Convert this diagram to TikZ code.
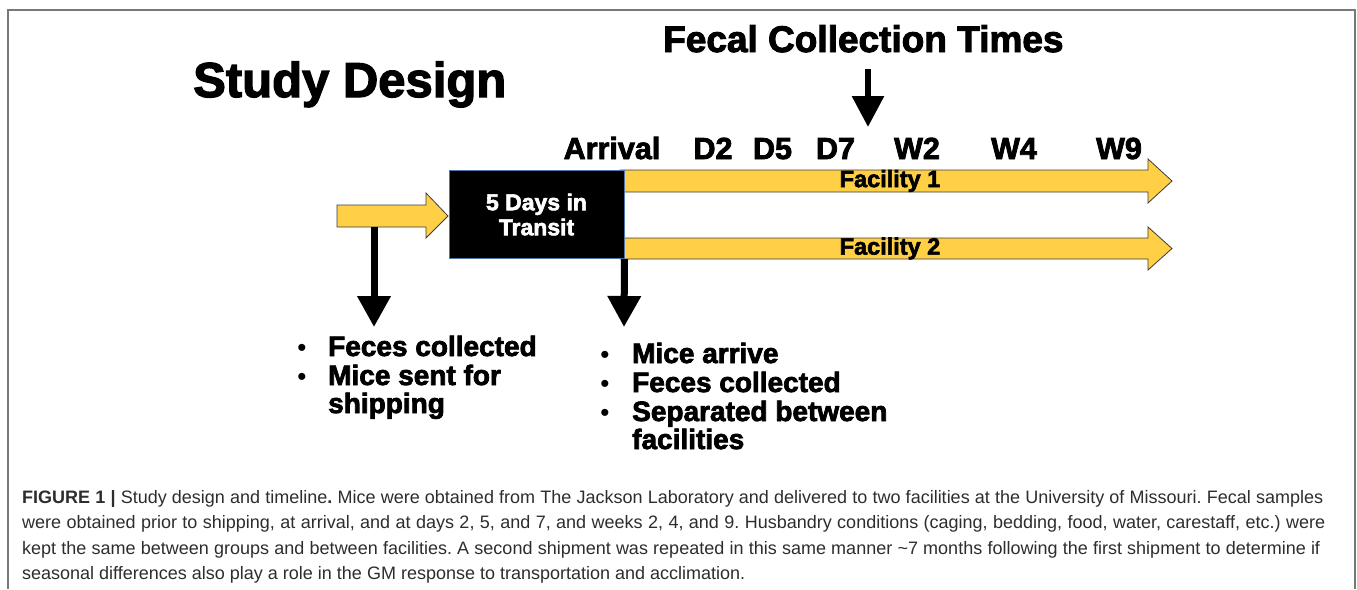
\documentclass[tikz,border=0pt]{standalone}
\usepackage{fontspec}
\setmainfont{Liberation Sans}
\newfontfamily\heavy[FakeBold=2.6]{Liberation Sans}
\newfontfamily\capfont{Liberation Sans}
\usetikzlibrary{arrows.meta}
\definecolor{framegray}{RGB}{120,120,120}
\definecolor{barfill}{RGB}{255,208,70}
\definecolor{baredge}{RGB}{60,60,60}
\definecolor{boxedge}{RGB}{80,120,175}
\definecolor{captext}{RGB}{45,45,45}
\begin{document}
\frenchspacing
\begin{tikzpicture}[x=1pt,y=-1pt,
  hd/.style={font=\heavy\bfseries\fontsize{#1}{#1}\selectfont, inner sep=0pt, text=black},
  yellowbar/.style={fill=barfill, draw=baredge, line width=0.8pt, line join=miter},
  downarrow/.style={line width=7pt, -{Triangle[width=32pt,length=31pt]}},
  captxt/.style={font=\capfont\frenchspacing\fontsize{18}{18}\selectfont, text=captext, inner sep=0pt},
  bulletdot/.style={font=\fontsize{26}{26}\selectfont, inner sep=0pt, anchor=base}]
\useasboundingbox (0,0) rectangle (1357,589);

% panel frame (open at the bottom)
\draw[framegray, line width=1.5pt] (8,589) -- (8,10) -- (1355,10) -- (1355,589);

% headings
\node[hd=49, anchor=base west] (title) at (193,97) {Study Design};
\node[hd=37, anchor=base west] (fct) at (663,52) {Fecal Collection Times};

% sampling points along the timeline
\node[hd=30.5, anchor=base] (tArr) at (612,159) {Arrival};
\node[hd=30.5, anchor=base] (tD2) at (713,159) {D2};
\node[hd=30.5, anchor=base] (tD5) at (772.5,159) {D5};
\node[hd=30.5, anchor=base] (tD7) at (835.5,159) {D7};
\node[hd=30.5, anchor=base] (tW2) at (917,159) {W2};
\node[hd=30.5, anchor=base] (tW4) at (1014,159) {W4};
\node[hd=30.5, anchor=base] (tW9) at (1119,159) {W9};

% shipping arrow into the transit box
\draw[yellowbar] (337,205) -- (426,205) -- (426,193) -- (448,216) -- (426,238) -- (426,227) -- (337,227) -- cycle;

% facility timelines
\draw[yellowbar] (620,170) -- (1148,170) -- (1148,159) -- (1172,181) -- (1148,203) -- (1148,192) -- (620,192) -- cycle;
\draw[yellowbar] (620,238) -- (1148,238) -- (1148,227) -- (1172,248.5) -- (1148,270) -- (1148,259) -- (620,259) -- cycle;
\node[hd=23.5] (fac1) at (890,181) {Facility 1};
\node[hd=23.5] (fac2) at (890,248.5) {Facility 2};

% transit box
\node[fill=black, draw=boxedge, line width=1pt, minimum width=175pt, minimum height=88pt,
      inner sep=0pt] (box) at (536.5,214.5) {};
\node[hd=23, text=white, align=center, font=\heavy\bfseries\fontsize{23}{25}\selectfont]
      (boxtxt) at (box.center) {5 Days in\\Transit};

% connectors
\coordinate (shipout) at (374,227);
\coordinate (shiptip) at (374,327);
\coordinate (arrtip) at (624,327);
\coordinate (fctop) at (868,69);
\coordinate (fctip) at (868,127);
\draw[downarrow] (shipout) -- (shiptip);
\draw[downarrow] (box.south east) -- (arrtip);
\draw[line width=6pt, -{Triangle[width=31pt,length=31pt]}] (fctop) -- (fctip);

% notes before shipping
\node[bulletdot] (b1) at (302,356) {\textbullet};
\node[bulletdot] (b2) at (302,385) {\textbullet};
\node[hd=28, anchor=base west] (n1) at (328,356) {Feces collected};
\node[hd=28, anchor=base west] (n2) at (328,385) {Mice sent for};
\node[hd=28, anchor=base west] (n3) at (328,413) {shipping};

% notes on arrival
\node[bulletdot] (b4) at (605,363) {\textbullet};
\node[bulletdot] (b5) at (605,392) {\textbullet};
\node[bulletdot] (b6) at (605,421) {\textbullet};
\node[hd=28, anchor=base west] (m1) at (632,363) {Mice arrive};
\node[hd=28, anchor=base west] (m2) at (632,392) {Feces collected};
\node[hd=28, anchor=base west] (m3) at (632,421) {Separated between};
\node[hd=28, anchor=base west] (m4) at (632,449) {facilities};

% caption
\node[captxt, anchor=base west] (c1) at (22,503) {\makebox[1301pt][s]{\textbf{FIGURE 1 |} Study design and timeline\textbf{.} Mice were obtained from The Jackson Laboratory and delivered to two facilities at the University of Missouri. Fecal samples}};
\node[captxt, anchor=base west] (c2) at (22,528.5) {\makebox[1303pt][s]{were obtained prior to shipping, at arrival, and at days 2, 5, and 7, and weeks 2, 4, and 9. Husbandry conditions (caging, bedding, food, water, carestaff, etc.) were}};
\node[captxt, anchor=base west] (c3) at (22,554) {\makebox[1298pt][s]{kept the same between groups and between facilities. A second shipment was repeated in this same manner \textasciitilde7 months following the first shipment to determine if}};
\node[captxt, anchor=base west] (c4) at (22,579.5) {seasonal differences also play a role in the GM response to transportation and acclimation.};
\end{tikzpicture}
\end{document}
